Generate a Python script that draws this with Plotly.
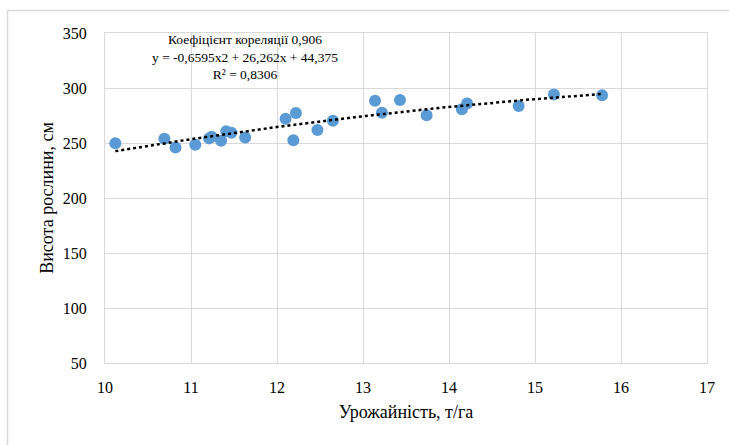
import numpy as np
import plotly.graph_objects as go

# Data
yield_t_ha = [10.12, 10.69, 10.82, 11.05, 11.21, 11.24, 11.35, 11.41, 11.47, 11.63,
              12.10, 12.22, 12.19, 12.47, 12.65, 13.14, 13.22, 13.43, 13.74, 14.15,
              14.21, 14.81, 15.22, 15.78]
height_cm = [249.7, 253.9, 246.0, 248.5, 254.2, 255.7, 252.0, 260.6, 259.4, 255.0,
             272.0, 277.3, 252.5, 261.8, 270.3, 288.5, 277.5, 289.0, 275.2, 280.6,
             286.0, 283.6, 294.0, 293.4]

# Trendline coefficients as stated on the chart
trend_coef = [-0.6595, 26.262, 44.375]
annotation_lines = ["Коефіцієнт кореляції 0,906",
                    "y = -0,6595x2 + 26,262x + 44,375",
                    "R² = 0,8306"]
x_title = "Урожайність, т/га"
y_title = "Висота рослини, см"

tx = np.linspace(min(yield_t_ha), max(yield_t_ha), 200)
ty = np.polyval(trend_coef, tx)

FONT = "Liberation Serif, Times New Roman, serif"

fig = go.Figure()
fig.add_trace(go.Scatter(x=yield_t_ha, y=height_cm, mode="markers",
                         marker=dict(size=12, color="#5B9BD5"),
                         showlegend=False, hoverinfo="x+y"))
fig.add_trace(go.Scatter(x=tx, y=ty, mode="lines",
                         line=dict(color="black", width=2.5, dash="dot"),
                         showlegend=False, hoverinfo="skip"))

W, H = 729, 445
ml, mr, mt, mb = 105, 22, 33, 82
pw, ph = W - ml - mr, H - mt - mb

fig.update_layout(
    width=W, height=H,
    margin=dict(l=ml, r=mr, t=mt, b=mb),
    paper_bgcolor="white", plot_bgcolor="white",
    font=dict(family=FONT, size=16, color="black"),
    xaxis=dict(range=[10, 17], dtick=1, showgrid=True, gridcolor="#d9d9d9",
               gridwidth=1, showline=True, linecolor="#d9d9d9", mirror=True,
               zeroline=False, ticks="", ticklabelstandoff=10,
               tickfont=dict(size=16, family=FONT),
               title=dict(text=x_title, font=dict(size=18, family=FONT), standoff=10)),
    yaxis=dict(range=[50, 350], dtick=50, showgrid=True, gridcolor="#d9d9d9",
               gridwidth=1, showline=True, linecolor="#d9d9d9", mirror=True,
               zeroline=False, ticks="", ticklabelstandoff=14,
               tickfont=dict(size=16, family=FONT),
               title=dict(text=y_title, font=dict(size=18, family=FONT), standoff=4)),
)

fig.add_annotation(xref="paper", yref="paper",
                   x=(245 - ml) / pw, y=(mt - 30) / ph + 1.0,
                   xanchor="center", yanchor="top", showarrow=False,
                   text="<br>".join(annotation_lines), align="center",
                   font=dict(size=13.5, family=FONT, color="black"))

# Outer chart border
fig.add_shape(type="rect", xref="paper", yref="paper", layer="below",
              x0=(7.5 - ml) / pw, x1=(W + 5 - ml) / pw,
              y0=-(H + 5 - mt - ph) / ph, y1=1 + (mt - 10.5) / ph,
              line=dict(color="#d9d9d9", width=1.5), fillcolor="rgba(0,0,0,0)")

fig.write_html("out.html")
